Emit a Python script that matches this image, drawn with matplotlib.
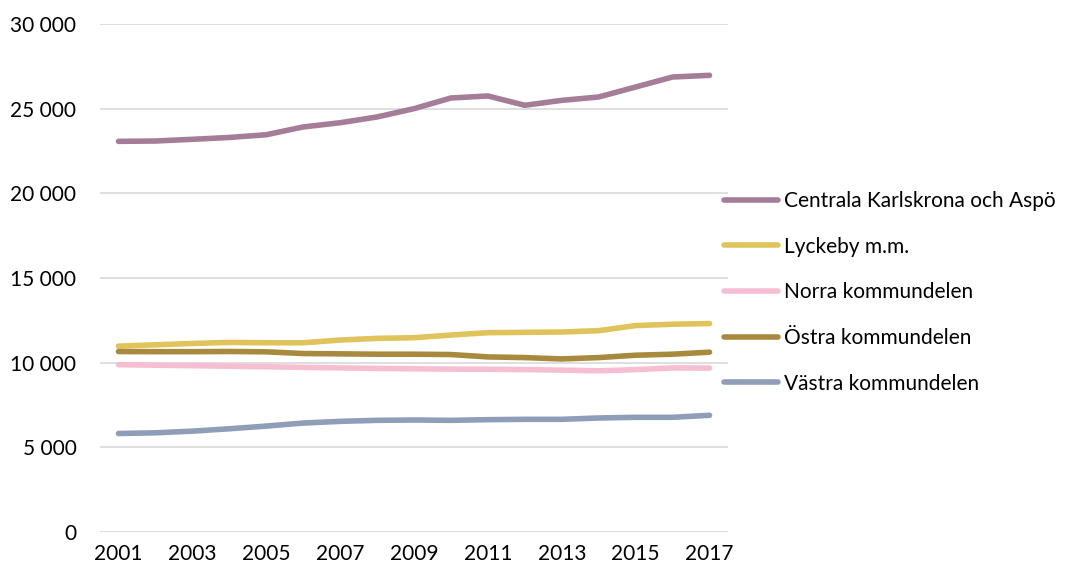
import matplotlib
matplotlib.use("Agg")
import matplotlib.pyplot as plt
from matplotlib.ticker import FuncFormatter

years = list(range(2001, 2018))
centrala = [23070, 23090, 23190, 23300, 23460, 23920, 24170, 24510, 25000, 25630,
            25750, 25200, 25490, 25690, 26280, 26870, 26970]
lyckeby = [10976, 11055, 11135, 11195, 11175, 11175, 11335, 11435, 11475, 11630,
           11770, 11790, 11810, 11890, 12190, 12270, 12310]
norra = [9880, 9850, 9820, 9790, 9760, 9720, 9690, 9660, 9640, 9620,
         9610, 9590, 9560, 9520, 9590, 9690, 9680]
ostra = [10657, 10650, 10650, 10660, 10640, 10540, 10520, 10500, 10500, 10480,
         10340, 10300, 10220, 10300, 10440, 10500, 10620]
vastra = [5817, 5857, 5956, 6096, 6255, 6434, 6534, 6594, 6614, 6594,
          6634, 6654, 6654, 6733, 6773, 6773, 6892]

series = [
    ("Centrala Karlskrona och Aspö", centrala, "#A67D98"),
    ("Lyckeby m.m.", lyckeby, "#E0C35A"),
    ("Norra kommundelen", norra, "#F7BED3"),
    ("Östra kommundelen", ostra, "#A88A3E"),
    ("Västra kommundelen", vastra, "#8E9DB8"),
]
xticks = [2001, 2003, 2005, 2007, 2009, 2011, 2013, 2015, 2017]
yticks = [0, 5000, 10000, 15000, 20000, 25000, 30000]

plt.rcParams['font.family'] = ['Lato', 'DejaVu Sans']

fig = plt.figure(figsize=(10.71, 5.70), dpi=100)
ax = fig.add_axes([100/1071, 38/570, 628/1071, 508/570])

for name, vals, col in series:
    ax.plot(years, vals, color=col, lw=4.0, solid_capstyle='round', label=name)

ax.set_xlim(2000.5, 2017.5)
ax.set_ylim(0, 30000)
ax.set_xticks(xticks)
ax.set_yticks(yticks)
ax.yaxis.set_major_formatter(FuncFormatter(lambda v, p: f"{int(v):,}".replace(",", " ")))
ax.grid(axis='y', color='#D9D9D9', lw=1.2)
ax.set_axisbelow(True)
for s in ax.spines.values():
    s.set_visible(False)
ax.tick_params(axis='both', length=0, labelsize=15, colors='black')
ax.tick_params(axis='y', pad=17)
ax.tick_params(axis='x', pad=9)

leg = ax.legend(loc='upper left', bbox_to_anchor=(724/1071, (570-191)/570),
                bbox_transform=fig.transFigure, frameon=False, fontsize=15,
                handlelength=2.6, handletextpad=0.3, labelspacing=1.23,
                borderaxespad=0, borderpad=0)

fig.savefig("out.png", dpi=100)
